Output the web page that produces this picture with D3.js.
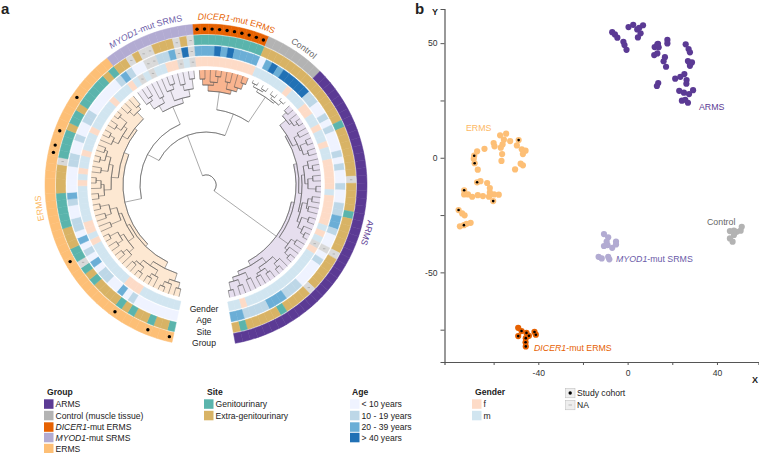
<!DOCTYPE html>
<html>
<head>
<meta charset="utf-8">
<title>Methylation groups</title>
<script src="https://d3js.org/d3.v7.min.js"></script>
<style>
  body { margin: 0; background: #fff; }
  text { font-family: "Liberation Sans", Arial, sans-serif; fill: #222; }
</style>
</head>
<body>
<div id="app"></div>
<script>
const width = 759, height = 453;

// clockwise from the gap at the bottom
const groups = ["ERMS", "MYOD", "DICER", "Control", "ARMS"];
const groupColors = { ERMS: "#fdbf76", MYOD: "#b2abd2", DICER: "#e66101", Control: "#b3b3b3", ARMS: "#5b3a94" };
const cladeFills = { ERMS: "#fde8d2", MYOD: "#efebf5", DICER: "#f9b48f", Control: "none", ARMS: "#e6deee" };
const groupSizes = [47, 12, 10, 8, 45];

// one letter per sample. G genitourinary, E extra-genitourinary, N not available
const siteErms = "GEEGEEGEGEEEEGEGNGGEEEGGGGGEEEENGGGGEGGEGGGGGEG";
const siteMyod = "EENENNEEENEN";
const siteDicer = "GGGGGGGGGG";
const siteControl = "EEEEEEEE";
const siteArms = "EEEEEEEGEEEEEEENEEEEGEEEEENEEEEENEEEEGEEEEEGE";

const ageErms = "00000001020011020102011001200001100100110000001";
const ageMyod = "2100NN112N3N";
const ageDicer = "2223232222";
const ageControl = "02323333";
const ageArms = "311001010001010010011221" + "00N0100001112221111" + "22";

const genderErms = "mmmmmmmfffmmmmmmmmfmffmmmmmmfmfmmfmmmfmmmmmfmmm";
const genderMyod = "fmNmNmmffNmN";
const genderDicer = "ffffffffff";
const genderControl = "mmmmmmfm";
const genderArms = "mmffmmfmmfmmfffffmfffffmfmNfmmmmmmmmmmmmmmfmm";

const cohortSamples = [0, 3, 8, 17, 32, 33, 35, 40, 59, 60, 61, 62, 63, 64, 65, 66, 67, 68];

// dendrogram, "(height child child)", . is a sample
const treeErmsLow = "(86 (93 (101 (107 . .) (105 . (110 . .))) (98 (104 . (108 . .)) (103 (109 . .) (106 . .)))) (89 (96 (102 . (107 . .)) (100 (106 . .) (109 . .))) (92 (103 . .) (99 (105 . .) (108 . .)))))";
const treeErmsUp = "(88 (95 (102 (108 . .) (105 . (110 . .))) (99 (106 . .) (104 (109 . .) (107 . .)))) (91 (97 (103 . (108 . .)) (101 (107 . .) (110 . .))) (100 (106 . .) (104 . .))))";
const treeMyod = "(85 (92 (100 . (104 . .)) (98 . .)) (90 (101 . (106 . .)) (97 (103 . .) (107 . .))))";
const treeDicer = "(94 (100 (106 . .) (103 . (109 . .))) (98 (105 . .) (102 . (108 . .))))";
const treeControl = "(106 (109 (112 . .) (111 . .)) (108 (111 . .) (112 . .)))";
const treeArmsUp = "(90 (93 (95 (103 (108 . .) (106 . (110 . .))) (100 (105 . .) (102 (109 . .) (107 . .)))) (96 (99 (104 . (108 . .)) (102 (107 . .) (110 . .))) (98 (103 (107 . .) (105 . .)) (101 (108 . .) (106 . (110 . .)))))) (101 (106 . .) (104 . (109 . .))))";
const treeArmsLow = "(92 (98 (104 . (109 . .)) (102 (107 . .) (105 . .))) (96 (103 . .) (100 (106 . .) (108 . .))))";

const treeTop = `(10 (53 (66 (83 ${treeErmsLow} ${treeErmsUp}) ${treeMyod}) (76 ${treeDicer} ${treeControl})) (87 ${treeArmsUp} ${treeArmsLow}))`;

// t-SNE positions
const armsX = [-6.9,-5.7,-4.6,-1.9,-1.4,-0.5,0.4,2.5,4.3,5.2,6.9,5.8,4.6,13.6,12.1,13.9,13.3,17.8,17.8,11.9,13.3,16.7,16.1,17.2,26,27.3,27.9,27,28.8,27.9,27.8,21.3,23.6,25.4,26.4,26.3,13.7,13.1,23.1,25.2,27.5,29.3,24.3,25.8,27];
const armsY = [54.8,53.8,52.4,50.6,49.2,47.1,57,58,56,56.7,57.8,54.3,52.5,49.7,48.3,48.2,49.5,51.4,49.9,44.8,45.5,43.9,42.1,39.7,49.5,47.4,46,42.2,41.6,40.1,41.2,34.5,35.3,36.5,33.9,32.3,32.6,31.3,29.2,28.4,27.8,29.5,24.9,25.3,24];
const ermsX = [-57.1,-54.4,-60,-59.6,-55.4,-52.6,-56,-56.8,-48.8,-49.6,-47.4,-45.7,-46.9,-56.2,-56.5,-64.1,-67.4,-68.7,-68.9,-68.5,-67.1,-50.4,-47.9,-46.9,-67.4,-65.9,-62.9,-61.7,-73.2,-73.2,-71.5,-69.6,-67.1,-64.8,-62.1,-61.7,-59.8,-57.7,-60.2,-75.7,-74.1,-73,-70.3,-72.1,-73.3,-75.1,-61.7];
const ermsY = [9.8,10.5,6.4,5,7.9,7.3,5.8,4.4,7.7,5.4,3.7,3.1,1.6,1.6,-1.4,3.9,2.8,0.9,-0.4,-2.4,-5.2,-5.1,-2.6,-3.3,-10.7,-10.2,-11,-13.2,-14.2,-16,-16,-17,-16.3,-16.7,-17,-15.1,-16,-16.1,-18.9,-22.8,-24.3,-25.1,-28.4,-28.8,-29.4,-29.9,-16.3];
const myodX = [-10.6,-8.7,-9.4,-10.6,-9,-6.9,-5.2,-5.2,-13,-11.6,-8.7,-8.2];
const myodY = [-33.3,-34.7,-36.6,-38.5,-38.1,-39.3,-36.6,-37.8,-43.2,-43.9,-43.2,-44.3];
const controlX = [51.1,50.6,48.8,47.6,45.8,47.6,45.8,47];
const controlY = [-30.1,-31.8,-32.3,-31.8,-32,-33.7,-35.2,-36.6];
const dicerX = [-49,-47.5,-45.3,-44.2,-49,-45.6,-45.7,-45.6,-41.7,-41.1];
const dicerY = [-74.2,-75.6,-76.4,-77.7,-77.8,-78.7,-80.5,-82.3,-76,-77.2];
// which of the points above belong to the study cohort
const ermsCohort = [8, 17, 19, 24, 28, 38, 39, 44];
const dicerCohort = [1, 2, 3, 4, 5, 6, 7, 8, 9];

const xTicks = [-60, -40, -20, 0, 20, 40];
const xTickLabels = [-40, 0, 40];
const yTicks = [-75, -50, -25, 0, 25, 50];
const yTickLabels = [-50, 0, 50];

const siteColors = { G: "#5ab4ac", E: "#d8b365", N: "#d9d9d9" };
const ageColors = { 0: "#eff3ff", 1: "#bdd7e7", 2: "#6baed6", 3: "#2171b5", N: "#d9d9d9" };
const genderColors = { f: "#fddbc7", m: "#d1e5f0", N: "#d9d9d9" };

const siteAll = Array.from(siteErms + siteMyod + siteDicer + siteControl + siteArms);
const ageAll = Array.from(ageErms + ageMyod + ageDicer + ageControl + ageArms);
const genderAll = Array.from(genderErms + genderMyod + genderDicer + genderControl + genderArms);
const groupAll = groups.flatMap((g, i) => d3.range(groupSizes[i]).map(() => g));
const nSamples = groupAll.length;

const svg = d3.select("#app").append("svg").attr("width", width).attr("height", height);

// ---------- panel a ----------
const circle = svg.append("g").attr("transform", "translate(206,185)");
const deg = Math.PI / 180;
const angle = d3.scaleLinear().domain([0, nSamples]).range([192.2 * deg, 529.5 * deg]);
const treeR = d3.scaleLinear().domain([0, 115]).range([0, 115]);
const tipHeight = 115;
const arc = d3.arc();

function parseTree(str) {
  const tokens = str.match(/\(|\)|\.|\d+/g);
  let pos = 0, leaf = 0;
  function read() {
    const t = tokens[pos++];
    if (t === ".") {
      const a = angle(leaf + 0.5);
      return { h: tipHeight, leaf: leaf++, a: a, children: [] };
    }
    const h = +tokens[pos++];
    const children = [];
    while (tokens[pos] !== ")") children.push(read());
    pos++;
    const a = (children[0].a + children[children.length - 1].a) / 2;
    return { h: h, a: a, children: children };
  }
  return read();
}

const root = parseTree(treeTop);
const nodes = [];
(function walk(n) { nodes.push(n); n.children.forEach(walk); })(root);
const branchNodes = nodes.filter(n => n.children.length);

function firstLeaf(n) { return n.children.length ? firstLeaf(n.children[0]) : n.leaf; }

// clades are filled from their inner nodes, this gives the stepped inner edge
branchNodes.filter(n => n.h >= 83).forEach(n => {
  const g = groupAll[firstLeaf(n)];
  if (g === "Control") return;
  circle.append("path")
    .attr("d", arc({
      innerRadius: treeR(n.h), outerRadius: treeR(tipHeight),
      startAngle: n.children[0].a, endAngle: n.children[n.children.length - 1].a
    }))
    .attr("fill", cladeFills[g]);
});

const treeLines = circle.append("g").attr("fill", "none").attr("stroke", "#555").attr("stroke-width", 0.5);
branchNodes.forEach(n => {
  treeLines.append("path").attr("d", arc({
    innerRadius: treeR(n.h), outerRadius: treeR(n.h),
    startAngle: n.children[0].a, endAngle: n.children[n.children.length - 1].a
  }));
  n.children.forEach(c => {
    treeLines.append("path").attr("d", d3.line()([d3.pointRadial(c.a, treeR(n.h)), d3.pointRadial(c.a, treeR(c.h))]));
  });
});

// annotation rings, inside to outside
const rings = [
  { values: genderAll, colors: genderColors, r0: 119, r1: 128 },
  { values: ageAll, colors: ageColors, r0: 129.5, r1: 139 },
  { values: siteAll, colors: siteColors, r0: 140.5, r1: 150 },
  { values: groupAll, colors: groupColors, r0: 151, r1: 161 }
];
rings.forEach(ring => {
  const g = circle.append("g");
  g.selectAll("path").data(ring.values).enter().append("path")
    .attr("d", (d, i) => arc({ innerRadius: ring.r0, outerRadius: ring.r1, startAngle: angle(i), endAngle: angle(i + 1) }))
    .attr("fill", d => ring.colors[d])
    .attr("stroke", d => ring.colors[d])
    .attr("stroke-width", 0.5);
  // NA cells carry a small dash
  ring.values.forEach((d, i) => {
    if (d !== "N") return;
    const p = d3.pointRadial(angle(i + 0.5), (ring.r0 + ring.r1) / 2);
    g.append("line")
      .attr("x1", p[0] - 1.2).attr("x2", p[0] + 1.2)
      .attr("y1", p[1]).attr("y2", p[1])
      .attr("stroke", "#999").attr("stroke-width", 0.6);
  });
});

circle.selectAll(".cohort").data(cohortSamples).enter().append("circle")
  .attr("class", "cohort")
  .attr("transform", d => `translate(${d3.pointRadial(angle(d + 0.5), 156)})`)
  .attr("r", 1.7)
  .attr("fill", "#000");

// group names follow the outer ring
const ringLabels = [
  { id: "lErms", italic: "", rest: "ERMS", color: "#fdb863", at: 262 },
  { id: "lMyod", italic: "MYOD1", rest: "-mut SRMS", color: "#6a5aa8", at: 338.5 },
  { id: "lDicer", italic: "DICER1", rest: "-mut ERMS", color: "#e66101", at: 370.6 },
  { id: "lControl", italic: "", rest: "Control", color: "#666", at: 395.6 },
  { id: "lArms", italic: "", rest: "ARMS", color: "#5b3a94", at: 466.5 }
];
ringLabels.forEach(l => {
  const mid = l.at * deg, span = 40 * deg;
  const p0 = d3.pointRadial(mid - span, 165.5), p1 = d3.pointRadial(mid + span, 165.5);
  circle.append("path").attr("id", l.id).attr("fill", "none")
    .attr("d", `M${p0[0]},${p0[1]}A165.5,165.5 0 0 1 ${p1[0]},${p1[1]}`);
  const t = circle.append("text").attr("font-size", 8.8).style("fill", l.color)
    .append("textPath").attr("href", "#" + l.id).attr("startOffset", "50%").attr("text-anchor", "middle");
  if (l.italic) t.append("tspan").attr("font-style", "italic").text(l.italic);
  t.append("tspan").text(l.rest);
});

const ringNames = ["Gender", "Age", "Site", "Group"];
const ringNameY = [312, 323, 335, 346];
svg.selectAll(".ringName").data(ringNames).enter().append("text")
  .attr("class", "ringName")
  .attr("x", 204).attr("y", (d, i) => ringNameY[i])
  .attr("text-anchor", "middle").attr("font-size", 8.6)
  .text(d => d);

svg.append("text").attr("x", 1).attr("y", 13.6).attr("font-size", 15).attr("font-weight", "bold").text("a");
svg.append("text").attr("x", 415).attr("y", 13.6).attr("font-size", 15).attr("font-weight", "bold").text("b");

// ---------- panel b ----------
const x = d3.scaleLinear().domain([-82, 58.6]).range([444.5, 758.5]);
const y = d3.scaleLinear().domain([-89.1, 64.9]).range([362, 9]);

const axisStyle = g => {
  g.selectAll("path,line").attr("stroke", "#555");
  g.select(".domain").attr("stroke-width", 1.2);
  g.selectAll("text").attr("font-size", 8.6).attr("font-family", "Liberation Sans").style("fill", "#333");
};
svg.append("g").attr("transform", "translate(0,362)")
  .call(d3.axisBottom(x).tickValues(xTicks).tickSizeOuter(0).tickSize(3).tickPadding(5)
    .tickFormat(d => xTickLabels.includes(d) ? d : ""))
  .call(axisStyle);
svg.append("g").attr("transform", "translate(444.5,0)")
  .call(d3.axisLeft(y).tickValues(yTicks).tickSizeOuter(0).tickSize(4).tickPadding(3)
    .tickFormat(d => yTickLabels.includes(d) ? d : ""))
  .call(axisStyle);

svg.append("text").attr("x", 432).attr("y", 15).attr("font-size", 9).attr("font-weight", "bold").text("Y");
svg.append("text").attr("x", 752).attr("y", 383).attr("font-size", 9).attr("font-weight", "bold").text("X");

const scatterSets = [
  { xs: ermsX, ys: ermsY, group: "ERMS", cohort: ermsCohort },
  { xs: armsX, ys: armsY, group: "ARMS", cohort: [] },
  { xs: myodX, ys: myodY, group: "MYOD", cohort: [] },
  { xs: controlX, ys: controlY, group: "Control", cohort: [] },
  { xs: dicerX, ys: dicerY, group: "DICER", cohort: dicerCohort }
];
scatterSets.forEach(s => {
  const g = svg.append("g");
  g.selectAll("circle.pt").data(s.xs).enter().append("circle")
    .attr("class", "pt")
    .attr("cx", d => x(d))
    .attr("cy", (d, i) => y(s.ys[i]))
    .attr("r", 3.1)
    .attr("fill", groupColors[s.group]);
  g.selectAll("circle.dot").data(s.cohort).enter().append("circle")
    .attr("class", "dot")
    .attr("cx", d => x(s.xs[d]))
    .attr("cy", d => y(s.ys[d]))
    .attr("r", 1.3)
    .attr("fill", "#000");
});

const scatterLabels = [
  { italic: "", rest: "ARMS", color: "#5b3a94", lx: 699, ly: 110 },
  { italic: "", rest: "ERMS", color: "#fdb863", lx: 466, ly: 131 },
  { italic: "", rest: "Control", color: "#666", lx: 707, ly: 225 },
  { italic: "MYOD1", rest: "-mut SRMS", color: "#6a5aa8", lx: 616, ly: 262 },
  { italic: "DICER1", rest: "-mut ERMS", color: "#e66101", lx: 534, ly: 351 }
];
scatterLabels.forEach(l => {
  const t = svg.append("text").attr("x", l.lx).attr("y", l.ly).attr("font-size", 8.8).style("fill", l.color);
  if (l.italic) t.append("tspan").attr("font-style", "italic").text(l.italic);
  t.append("tspan").text(l.rest);
});

// ---------- legends ----------
const legendRowY = [404, 415.5, 427, 437.5, 448.5];
function legend(title, titleX, swatchX, items) {
  svg.append("text").attr("x", titleX).attr("y", 395).attr("font-size", 8.6).attr("font-weight", "bold").text(title);
  items.forEach((it, i) => {
    svg.append("rect").attr("x", swatchX).attr("y", legendRowY[i] - 4.7)
      .attr("width", 9.5).attr("height", 9.5).attr("fill", it.color);
    const t = svg.append("text").attr("x", swatchX + 11.5).attr("y", legendRowY[i] + 3).attr("font-size", 8.6);
    if (it.italic) t.append("tspan").attr("font-style", "italic").text(it.italic);
    t.append("tspan").text(it.rest);
  });
}
legend("Group", 47, 44, [
  { color: groupColors.ARMS, rest: "ARMS" },
  { color: groupColors.Control, rest: "Control (muscle tissue)" },
  { color: groupColors.DICER, italic: "DICER1", rest: "-mut ERMS" },
  { color: groupColors.MYOD, italic: "MYOD1", rest: "-mut SRMS" },
  { color: groupColors.ERMS, rest: "ERMS" }
]);
legend("Site", 207, 204, [
  { color: siteColors.G, rest: "Genitourinary" },
  { color: siteColors.E, rest: "Extra-genitourinary" }
]);
legend("Age", 352, 350, [
  { color: ageColors[0], rest: "< 10 years" },
  { color: ageColors[1], rest: "10 - 19 years" },
  { color: ageColors[2], rest: "20 - 39 years" },
  { color: ageColors[3], rest: "> 40 years" }
]);
legend("Gender", 475, 472, [
  { color: genderColors.f, rest: "f" },
  { color: genderColors.m, rest: "m" }
]);

const extraRows = ["Study cohort", "NA"];
const extraY = [393, 405];
extraRows.forEach((label, i) => {
  svg.append("rect").attr("x", 565.5).attr("y", extraY[i] - 4.7).attr("width", 9.5).attr("height", 9.5)
    .attr("fill", "#eee").attr("stroke", "#bbb").attr("stroke-width", 0.5);
  if (i === 0) svg.append("circle").attr("cx", 570.2).attr("cy", extraY[i]).attr("r", 1.7).attr("fill", "#000");
  else svg.append("line").attr("x1", 568.5).attr("x2", 572).attr("y1", extraY[i]).attr("y2", extraY[i]).attr("stroke", "#999").attr("stroke-width", 0.6);
  svg.append("text").attr("x", 577).attr("y", extraY[i] + 3).attr("font-size", 8.6).text(label);
});
</script>
</body>
</html>
